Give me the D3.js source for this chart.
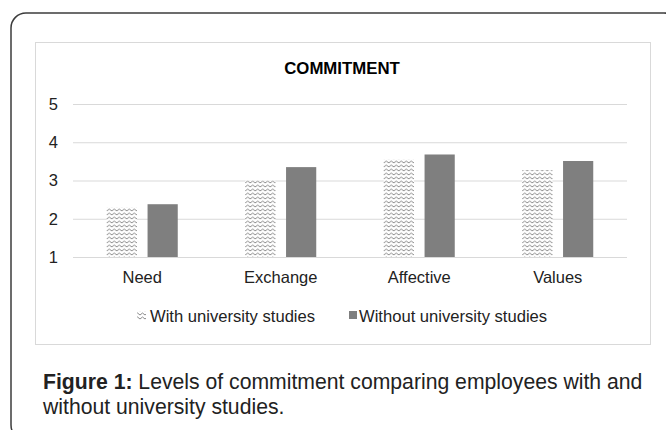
<!DOCTYPE html>
<html>
<head lang="en">
  <title>Commitment</title>
  <script src="https://d3js.org/d3.v7.min.js" charset="utf-8"></script>
  <style>
    body { margin: 0; background: #fff; }
    text { font-family: "Liberation Sans", Arial, sans-serif; }
  </style>
</head>
<body>
  <script>

    // data
    var categories = ["Need", "Exchange", "Affective", "Values"];
    var seriesNames = ["With university studies", "Without university studies"];
    var withUni = [2.30, 3.00, 3.56, 3.27];
    var withoutUni = [2.38, 3.35, 3.68, 3.51];
    var yTicks = [1, 2, 3, 4, 5];

    var width = 666;
    var height = 430;

    var svg = d3.select("body")
      .append("svg")
      .attr("width", width)
      .attr("height", height);

    // zigzag fill for the first series
    var defs = svg.append("defs");
    var pat = defs.append("pattern")
      .attr("id", "zigzag")
      .attr("patternUnits", "userSpaceOnUse")
      .attr("width", 5)
      .attr("height", 4);
    pat.append("rect")
      .attr("width", 5).attr("height", 4)
      .attr("fill", "#fff");
    pat.append("path")
      .attr("d", "M0,3 L2.5,1 L5,3")
      .attr("fill", "none")
      .attr("stroke", "#8c8c8c")
      .attr("stroke-width", 1);

    // outer rounded frame
    svg.append("rect")
      .attr("x", 11).attr("y", 13)
      .attr("width", 668).attr("height", 427)
      .attr("rx", 15)
      .attr("fill", "none")
      .attr("stroke", "#3c3c3c")
      .attr("stroke-width", 1.5);

    // chart area frame
    svg.append("rect")
      .attr("x", 35.5).attr("y", 42.5)
      .attr("width", 615).attr("height", 302)
      .attr("fill", "#fff")
      .attr("stroke", "#d9d9d9")
      .attr("stroke-width", 1);

    svg.append("text")
      .attr("x", 342)
      .attr("y", 74)
      .attr("text-anchor", "middle")
      .attr("font-size", "16.8px")
      .attr("font-weight", "bold")
      .attr("fill", "#000")
      .text("COMMITMENT");

    var y = d3.scaleLinear()
      .domain([1, 5])
      .range([257, 104]);

    var x0 = d3.scaleBand()
      .domain(categories)
      .range([73, 627]);

    var x1 = d3.scaleBand()
      .domain(seriesNames)
      .range([0, 71])
      .paddingInner(0.26);

    var groupOffset = (x0.bandwidth() - 71) / 2;

    // gridlines + y labels
    var yAxis = svg.append("g")
      .attr("transform", "translate(73,0)")
      .call(d3.axisLeft(y)
        .tickValues(yTicks)
        .tickSize(-554)
        .tickPadding(15)
        .tickFormat(d3.format("d")));
    yAxis.select(".domain").remove();
    yAxis.selectAll(".tick line")
      .attr("stroke", "#d9d9d9");
    yAxis.selectAll(".tick text")
      .attr("font-size", "16.5px")
      .attr("font-family", "'Liberation Sans', Arial, sans-serif")
      .attr("fill", "#222");

    var rows = categories.map(function(c, i) {
      return { cat: c, vals: [withUni[i], withoutUni[i]] };
    });

    var groups = svg.append("g")
      .selectAll("g")
      .data(rows)
      .enter().append("g")
        .attr("transform", function(d) { return "translate(" + (x0(d.cat) + groupOffset) + ",0)"; });

    groups.selectAll("rect")
      .data(function(d) { return d.vals.map(function(v, j) { return { s: seriesNames[j], v: v }; }); })
      .enter().append("rect")
        .attr("x", function(d) { return x1(d.s); })
        .attr("width", x1.bandwidth())
        .attr("y", function(d) { return y(d.v); })
        .attr("height", function(d) { return y(1) - y(d.v); })
        .attr("fill", function(d, j) { return j === 0 ? "url(#zigzag)" : "#7f7f7f"; });

    // category labels
    var xAxis = svg.append("g")
      .attr("transform", "translate(0,257)")
      .call(d3.axisBottom(x0).tickSize(0).tickPadding(14));
    xAxis.select(".domain").remove();
    xAxis.selectAll(".tick text")
      .attr("font-size", "16.5px")
      .attr("font-family", "'Liberation Sans', Arial, sans-serif")
      .attr("fill", "#222");

    // legend
    var legend = svg.append("g");
    legend.append("rect")
      .attr("x", 137).attr("y", 311)
      .attr("width", 9).attr("height", 9)
      .attr("fill", "url(#zigzag)");
    legend.append("text")
      .attr("x", 150).attr("y", 322)
      .attr("font-size", "16.6px")
      .attr("fill", "#222")
      .text(seriesNames[0]);
    legend.append("rect")
      .attr("x", 349).attr("y", 311)
      .attr("width", 8).attr("height", 8)
      .attr("fill", "#7f7f7f");
    legend.append("text")
      .attr("x", 359).attr("y", 322)
      .attr("font-size", "16.6px")
      .attr("fill", "#222")
      .text(seriesNames[1]);

    // caption
    var cap = svg.append("text")
      .attr("x", 43).attr("y", 389)
      .attr("font-size", "21.2px")
      .attr("fill", "#222");
    cap.append("tspan")
      .attr("font-weight", "bold")
      .text("Figure 1:");
    cap.append("tspan")
      .text(" Levels of commitment comparing employees with and");
    svg.append("text")
      .attr("x", 43).attr("y", 414)
      .attr("font-size", "21.2px")
      .attr("fill", "#222")
      .text("without university studies.");

  </script>
</body>
</html>
